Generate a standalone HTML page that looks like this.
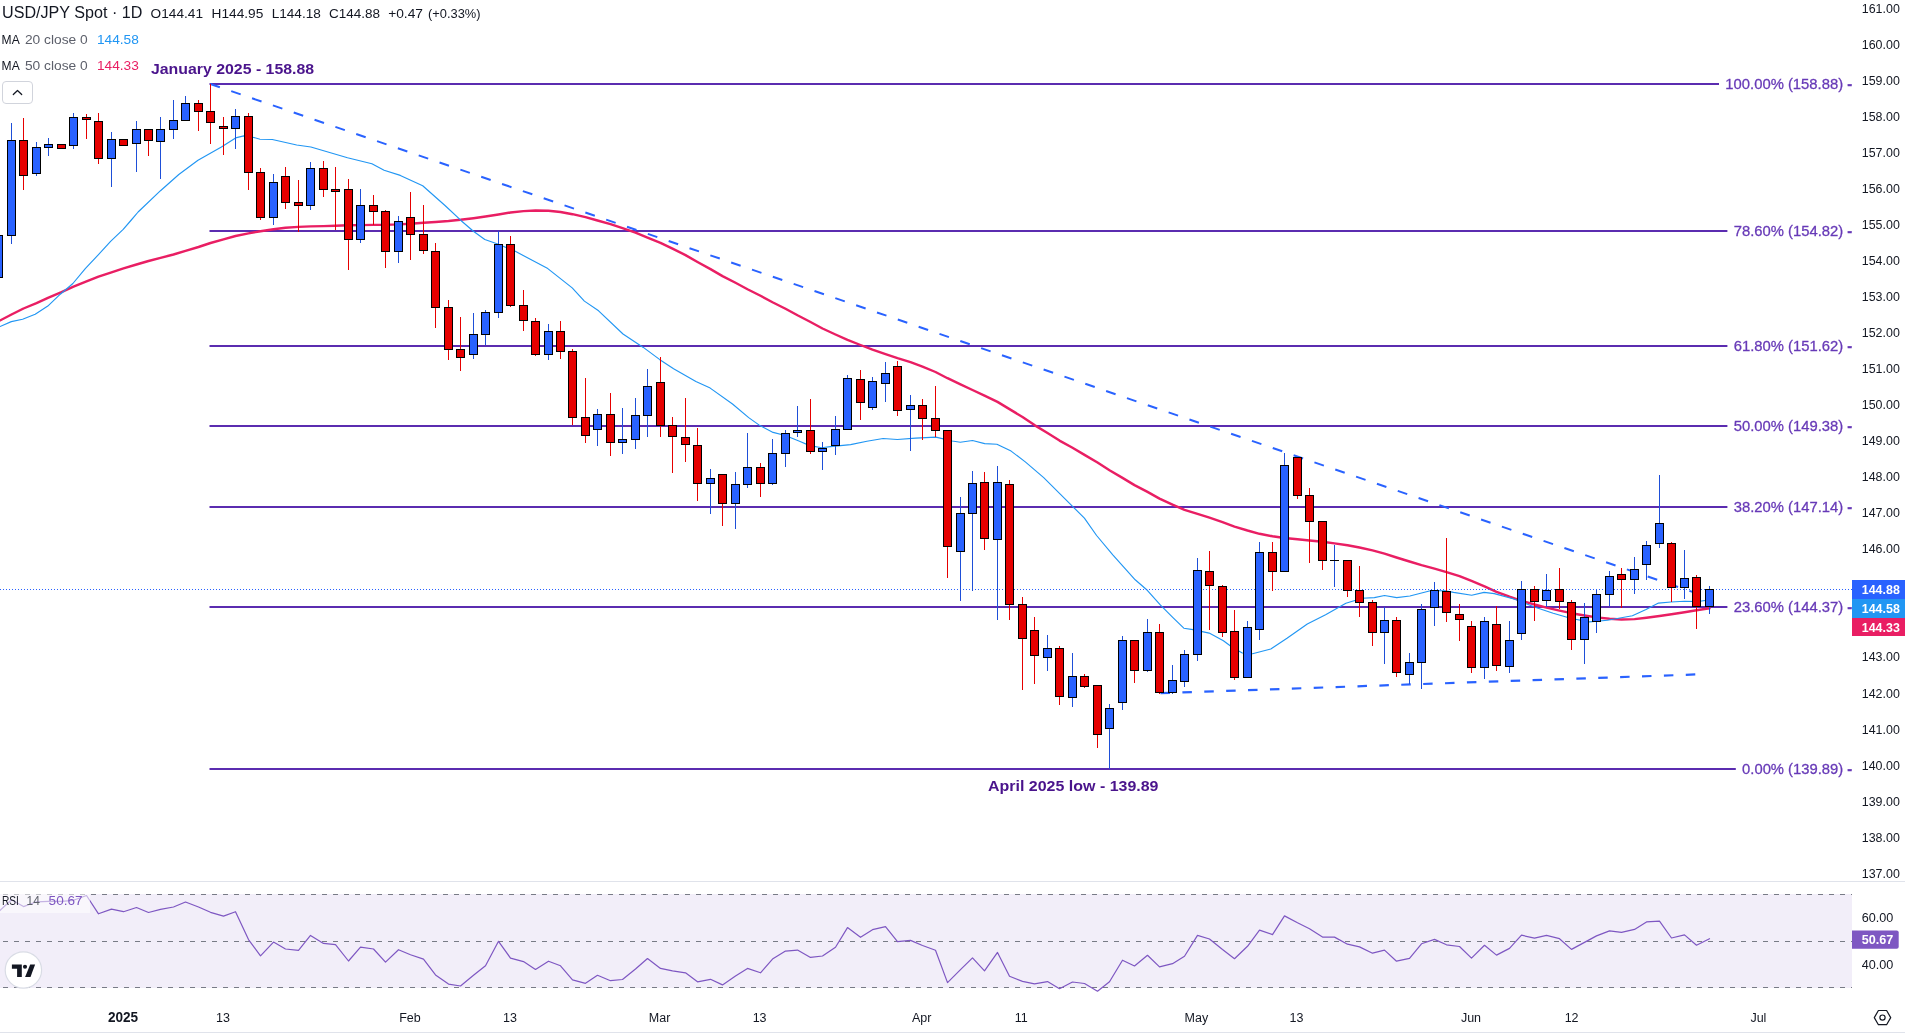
<!DOCTYPE html>
<html><head><meta charset="utf-8"><title>USD/JPY Spot 1D</title>
<style>html,body{margin:0;padding:0;background:#fff;overflow:hidden}svg{display:block;will-change:transform}</style></head>
<body>
<svg width="1905" height="1034" viewBox="0 0 1905 1034" font-family='"Liberation Sans", sans-serif'>
<rect x="0" y="894" width="1852" height="94" fill="#f2eef9"/>
<rect x="0" y="881" width="1905" height="1" fill="#e0e3eb"/>
<rect x="0" y="1032" width="1905" height="1" fill="#e0e3eb"/>
<rect x="209.5" y="83.0" width="1509.5" height="2" fill="#5b2cb0"/>
<rect x="209.5" y="230.0" width="1517.9" height="2" fill="#5b2cb0"/>
<rect x="209.5" y="345.0" width="1517.9" height="2" fill="#5b2cb0"/>
<rect x="209.5" y="425.0" width="1517.9" height="2" fill="#5b2cb0"/>
<rect x="209.5" y="506.0" width="1517.9" height="2" fill="#5b2cb0"/>
<rect x="209.5" y="606.0" width="1517.9" height="2" fill="#5b2cb0"/>
<rect x="209.5" y="768.0" width="1526.3" height="2" fill="#5b2cb0"/>
<text x="1852.2" y="88.8" font-size="15" fill="#673ab7" text-anchor="end" textLength="126.9" lengthAdjust="spacingAndGlyphs" stroke="#673ab7" stroke-width="0.3">100.00% (158.88) <tspan font-weight="bold">-</tspan></text>
<text x="1852.2" y="235.8" font-size="15" fill="#673ab7" text-anchor="end" textLength="118.5" lengthAdjust="spacingAndGlyphs" stroke="#673ab7" stroke-width="0.3">78.60% (154.82) <tspan font-weight="bold">-</tspan></text>
<text x="1852.2" y="350.8" font-size="15" fill="#673ab7" text-anchor="end" textLength="118.5" lengthAdjust="spacingAndGlyphs" stroke="#673ab7" stroke-width="0.3">61.80% (151.62) <tspan font-weight="bold">-</tspan></text>
<text x="1852.2" y="430.8" font-size="15" fill="#673ab7" text-anchor="end" textLength="118.5" lengthAdjust="spacingAndGlyphs" stroke="#673ab7" stroke-width="0.3">50.00% (149.38) <tspan font-weight="bold">-</tspan></text>
<text x="1852.2" y="511.8" font-size="15" fill="#673ab7" text-anchor="end" textLength="118.5" lengthAdjust="spacingAndGlyphs" stroke="#673ab7" stroke-width="0.3">38.20% (147.14) <tspan font-weight="bold">-</tspan></text>
<text x="1852.2" y="611.8" font-size="15" fill="#673ab7" text-anchor="end" textLength="118.5" lengthAdjust="spacingAndGlyphs" stroke="#673ab7" stroke-width="0.3">23.60% (144.37) <tspan font-weight="bold">-</tspan></text>
<text x="1852.2" y="773.8" font-size="15" fill="#673ab7" text-anchor="end" textLength="110.1" lengthAdjust="spacingAndGlyphs" stroke="#673ab7" stroke-width="0.3">0.00% (139.89) <tspan font-weight="bold">-</tspan></text>
<line x1="210.4" y1="84.0" x2="1692.5" y2="591.9" stroke="#2962ff" stroke-width="2" stroke-dasharray="10 12.02"/>
<line x1="1160.5" y1="693.2" x2="1697" y2="674.4" stroke="#2962ff" stroke-width="2.2" stroke-dasharray="9.5 12.4"/>
<polyline points="-1.5,321.3 11.5,314.5 23.5,308.5 36.5,303.1 48.5,297.7 61.5,292.2 73.5,286.7 86.5,281.4 98.5,276.6 111.5,272.3 123.5,268.4 136.5,264.5 148.5,261.0 160.5,257.8 173.5,254.5 185.5,250.8 198.5,247.0 210.5,243.0 223.5,239.3 235.5,236.0 248.5,233.4 260.5,231.2 273.5,229.2 285.5,227.7 298.5,226.9 310.5,226.4 323.5,226.1 335.5,225.8 348.5,225.3 360.5,225.1 373.5,224.9 385.5,224.8 398.5,224.4 410.5,223.7 423.5,222.8 435.5,222.0 448.5,221.0 460.5,219.8 473.5,218.2 485.5,216.5 498.5,214.5 510.5,212.5 523.5,211.1 535.5,210.5 548.5,210.8 560.5,212.0 572.5,214.2 585.5,217.1 597.5,220.5 610.5,224.1 622.5,228.2 635.5,232.7 647.5,237.6 660.5,242.9 672.5,248.7 685.5,255.1 697.5,262.0 710.5,269.1 722.5,276.1 735.5,282.8 747.5,289.2 760.5,295.7 772.5,302.2 785.5,308.7 797.5,315.3 810.5,322.0 822.5,328.5 835.5,334.5 847.5,339.9 860.5,345.0 872.5,349.7 885.5,354.1 897.5,358.2 910.5,362.2 922.5,366.7 935.5,372.0 947.5,378.2 960.5,384.3 972.5,390.0 984.5,395.7 997.5,401.9 1009.5,409.1 1022.5,417.0 1034.5,425.1 1047.5,433.0 1059.5,440.6 1072.5,447.7 1084.5,454.9 1097.5,462.5 1109.5,470.3 1122.5,477.9 1134.5,485.1 1147.5,491.9 1159.5,498.6 1172.5,504.7 1184.5,509.8 1197.5,513.8 1209.5,517.7 1222.5,522.1 1234.5,526.6 1247.5,530.5 1259.5,533.8 1272.5,536.3 1284.5,538.0 1297.5,539.2 1309.5,540.5 1322.5,541.8 1334.5,543.4 1347.5,545.2 1359.5,547.5 1372.5,550.3 1384.5,553.7 1396.5,557.5 1409.5,561.5 1421.5,565.2 1434.5,568.7 1446.5,572.1 1459.5,576.1 1471.5,580.9 1484.5,586.3 1496.5,591.8 1509.5,596.7 1521.5,600.9 1534.5,604.5 1546.5,607.7 1559.5,610.6 1571.5,613.2 1584.5,615.5 1596.5,617.4 1609.5,618.8 1621.5,619.5 1634.5,619.1 1646.5,617.7 1659.5,616.0 1671.5,614.2 1684.5,612.2 1696.5,610.2 1709.5,608.3" fill="none" stroke="#e91e63" stroke-width="2.4" stroke-linejoin="round" stroke-linecap="round"/>
<polyline points="-2.0,327.5 0.0,326.6 11.3,321.6 22.6,319.3 35.2,314.3 47.8,306.1 60.3,294.2 72.9,283.5 85.5,268.4 98.0,255.2 110.6,241.4 123.2,229.4 131.3,220.0 138.1,212.0 160.5,190.7 178.8,174.5 198.0,160.2 221.4,147.0 235.6,137.9 243.8,135.9 253.9,137.5 260.0,139.2 272.3,139.5 296.7,145.0 310.9,147.0 347.5,157.7 371.9,163.8 384.1,170.3 400.3,175.4 422.7,185.8 445.0,205.5 461.2,220.7 473.4,231.3 484.8,239.5 497.0,243.8 515.3,251.3 547.8,268.6 572.2,287.9 584.4,301.1 598.6,310.8 623.0,334.0 643.3,347.4 659.5,359.4 673.6,368.8 695.9,381.6 710.2,388.1 732.5,404.0 748.7,417.6 758.9,424.9 773.1,432.4 785.3,435.5 799.5,441.2 809.7,445.6 821.9,447.7 830.3,446.6 850.6,444.6 866.9,441.2 883.1,438.5 897.3,439.5 915.6,438.1 935.9,437.1 952.2,441.0 960.3,442.2 972.5,440.5 984.7,443.6 996.9,444.2 1011.1,451.1 1025.3,461.9 1043.7,477.6 1060.0,493.8 1084.4,518.2 1096.6,535.5 1112.8,554.8 1135.2,579.8 1147.3,590.3 1160.5,605.2 1172.7,617.4 1183.8,628.2 1193.0,629.6 1209.2,633.1 1223.4,640.8 1232.2,647.3 1242.3,653.0 1252.5,653.8 1270.8,649.0 1287.0,638.2 1307.3,624.0 1325.6,614.8 1345.9,603.3 1362.2,598.2 1374.4,597.6 1384.5,595.5 1396.7,597.6 1409.9,596.0 1431.3,590.5 1445.5,590.9 1453.6,592.4 1471.7,595.2 1484.1,592.4 1494.3,593.6 1514.7,599.2 1535.1,607.2 1553.2,613.3 1571.3,618.5 1589.4,621.9 1607.5,620.3 1632.4,615.8 1646.0,609.4 1658.5,603.1 1670.9,602.0 1684.5,601.3 1698.1,601.5 1709.4,599.9" fill="none" stroke="#2196f3" stroke-width="1.15" stroke-linejoin="round" stroke-linecap="round"/>
<line x1="0" y1="589.5" x2="1852" y2="589.5" stroke="#2962ff" stroke-width="1" stroke-dasharray="1 2"/>
<g shape-rendering="crispEdges">
<rect x="-6" y="235" width="9" height="43" fill="#000"/><rect x="-5" y="236" width="7" height="41" fill="#2962ff"/>
<rect x="11" y="123" width="1" height="17" fill="#1e4fd8"/>
<rect x="11" y="236" width="1" height="8" fill="#1e4fd8"/>
<rect x="7" y="140" width="9" height="96" fill="#000"/>
<rect x="8" y="141" width="7" height="94" fill="#2962ff"/>
<rect x="23" y="118" width="1" height="22" fill="#e60000"/>
<rect x="23" y="176" width="1" height="14" fill="#e60000"/>
<rect x="19" y="140" width="9" height="36" fill="#000"/>
<rect x="20" y="141" width="7" height="34" fill="#e60000"/>
<rect x="36" y="142" width="1" height="5" fill="#1e4fd8"/>
<rect x="36" y="174" width="1" height="2" fill="#1e4fd8"/>
<rect x="32" y="147" width="9" height="27" fill="#000"/>
<rect x="33" y="148" width="7" height="25" fill="#2962ff"/>
<rect x="48" y="138" width="1" height="6" fill="#1e4fd8"/>
<rect x="48" y="148" width="1" height="8" fill="#1e4fd8"/>
<rect x="44" y="144" width="9" height="4" fill="#000"/>
<rect x="45" y="145" width="7" height="2" fill="#2962ff"/>
<rect x="57" y="144" width="9" height="5" fill="#000"/>
<rect x="58" y="145" width="7" height="3" fill="#e60000"/>
<rect x="73" y="113" width="1" height="4" fill="#1e4fd8"/>
<rect x="73" y="146" width="1" height="3" fill="#1e4fd8"/>
<rect x="69" y="117" width="9" height="29" fill="#000"/>
<rect x="70" y="118" width="7" height="27" fill="#2962ff"/>
<rect x="86" y="114" width="1" height="3" fill="#e60000"/>
<rect x="86" y="120" width="1" height="19" fill="#e60000"/>
<rect x="82" y="117" width="9" height="3" fill="#000"/>
<rect x="83" y="118" width="7" height="1" fill="#e60000"/>
<rect x="98" y="113" width="1" height="8" fill="#e60000"/>
<rect x="98" y="159" width="1" height="5" fill="#e60000"/>
<rect x="94" y="121" width="9" height="38" fill="#000"/>
<rect x="95" y="122" width="7" height="36" fill="#e60000"/>
<rect x="111" y="132" width="1" height="7" fill="#1e4fd8"/>
<rect x="111" y="159" width="1" height="28" fill="#1e4fd8"/>
<rect x="107" y="139" width="9" height="20" fill="#000"/>
<rect x="108" y="140" width="7" height="18" fill="#2962ff"/>
<rect x="119" y="139" width="9" height="7" fill="#000"/>
<rect x="120" y="140" width="7" height="5" fill="#e60000"/>
<rect x="136" y="121" width="1" height="8" fill="#1e4fd8"/>
<rect x="136" y="144" width="1" height="28" fill="#1e4fd8"/>
<rect x="132" y="129" width="9" height="15" fill="#000"/>
<rect x="133" y="130" width="7" height="13" fill="#2962ff"/>
<rect x="148" y="141" width="1" height="15" fill="#e60000"/>
<rect x="144" y="129" width="9" height="12" fill="#000"/>
<rect x="145" y="130" width="7" height="10" fill="#e60000"/>
<rect x="160" y="117" width="1" height="12" fill="#1e4fd8"/>
<rect x="160" y="142" width="1" height="37" fill="#1e4fd8"/>
<rect x="156" y="129" width="9" height="13" fill="#000"/>
<rect x="157" y="130" width="7" height="11" fill="#2962ff"/>
<rect x="173" y="100" width="1" height="20" fill="#1e4fd8"/>
<rect x="173" y="130" width="1" height="9" fill="#1e4fd8"/>
<rect x="169" y="120" width="9" height="10" fill="#000"/>
<rect x="170" y="121" width="7" height="8" fill="#2962ff"/>
<rect x="185" y="96" width="1" height="7" fill="#1e4fd8"/>
<rect x="181" y="103" width="9" height="18" fill="#000"/>
<rect x="182" y="104" width="7" height="16" fill="#2962ff"/>
<rect x="198" y="100" width="1" height="3" fill="#e60000"/>
<rect x="198" y="112" width="1" height="19" fill="#e60000"/>
<rect x="194" y="103" width="9" height="9" fill="#000"/>
<rect x="195" y="104" width="7" height="7" fill="#e60000"/>
<rect x="210" y="84" width="1" height="27" fill="#e60000"/>
<rect x="210" y="123" width="1" height="21" fill="#e60000"/>
<rect x="206" y="111" width="9" height="12" fill="#000"/>
<rect x="207" y="112" width="7" height="10" fill="#e60000"/>
<rect x="223" y="117" width="1" height="9" fill="#e60000"/>
<rect x="223" y="129" width="1" height="26" fill="#e60000"/>
<rect x="219" y="126" width="9" height="3" fill="#000"/>
<rect x="220" y="127" width="7" height="1" fill="#e60000"/>
<rect x="235" y="109" width="1" height="7" fill="#1e4fd8"/>
<rect x="235" y="129" width="1" height="20" fill="#1e4fd8"/>
<rect x="231" y="116" width="9" height="13" fill="#000"/>
<rect x="232" y="117" width="7" height="11" fill="#2962ff"/>
<rect x="248" y="113" width="1" height="3" fill="#e60000"/>
<rect x="248" y="173" width="1" height="17" fill="#e60000"/>
<rect x="244" y="116" width="9" height="57" fill="#000"/>
<rect x="245" y="117" width="7" height="55" fill="#e60000"/>
<rect x="260" y="168" width="1" height="4" fill="#e60000"/>
<rect x="260" y="218" width="1" height="2" fill="#e60000"/>
<rect x="256" y="172" width="9" height="46" fill="#000"/>
<rect x="257" y="173" width="7" height="44" fill="#e60000"/>
<rect x="273" y="174" width="1" height="8" fill="#1e4fd8"/>
<rect x="273" y="218" width="1" height="7" fill="#1e4fd8"/>
<rect x="269" y="182" width="9" height="36" fill="#000"/>
<rect x="270" y="183" width="7" height="34" fill="#2962ff"/>
<rect x="285" y="167" width="1" height="9" fill="#e60000"/>
<rect x="285" y="203" width="1" height="6" fill="#e60000"/>
<rect x="281" y="176" width="9" height="27" fill="#000"/>
<rect x="282" y="177" width="7" height="25" fill="#e60000"/>
<rect x="298" y="180" width="1" height="22" fill="#e60000"/>
<rect x="298" y="206" width="1" height="26" fill="#e60000"/>
<rect x="294" y="202" width="9" height="4" fill="#000"/>
<rect x="295" y="203" width="7" height="2" fill="#e60000"/>
<rect x="310" y="162" width="1" height="6" fill="#1e4fd8"/>
<rect x="310" y="206" width="1" height="4" fill="#1e4fd8"/>
<rect x="306" y="168" width="9" height="38" fill="#000"/>
<rect x="307" y="169" width="7" height="36" fill="#2962ff"/>
<rect x="323" y="161" width="1" height="7" fill="#e60000"/>
<rect x="323" y="190" width="1" height="7" fill="#e60000"/>
<rect x="319" y="168" width="9" height="22" fill="#000"/>
<rect x="320" y="169" width="7" height="20" fill="#e60000"/>
<rect x="335" y="167" width="1" height="22" fill="#e60000"/>
<rect x="335" y="192" width="1" height="38" fill="#e60000"/>
<rect x="331" y="189" width="9" height="3" fill="#000"/>
<rect x="332" y="190" width="7" height="1" fill="#e60000"/>
<rect x="348" y="179" width="1" height="10" fill="#e60000"/>
<rect x="348" y="240" width="1" height="30" fill="#e60000"/>
<rect x="344" y="189" width="9" height="51" fill="#000"/>
<rect x="345" y="190" width="7" height="49" fill="#e60000"/>
<rect x="360" y="189" width="1" height="16" fill="#1e4fd8"/>
<rect x="360" y="240" width="1" height="3" fill="#1e4fd8"/>
<rect x="356" y="205" width="9" height="35" fill="#000"/>
<rect x="357" y="206" width="7" height="33" fill="#2962ff"/>
<rect x="373" y="195" width="1" height="10" fill="#e60000"/>
<rect x="373" y="212" width="1" height="13" fill="#e60000"/>
<rect x="369" y="205" width="9" height="7" fill="#000"/>
<rect x="370" y="206" width="7" height="5" fill="#e60000"/>
<rect x="385" y="210" width="1" height="1" fill="#e60000"/>
<rect x="385" y="252" width="1" height="16" fill="#e60000"/>
<rect x="381" y="211" width="9" height="41" fill="#000"/>
<rect x="382" y="212" width="7" height="39" fill="#e60000"/>
<rect x="398" y="216" width="1" height="5" fill="#1e4fd8"/>
<rect x="398" y="252" width="1" height="11" fill="#1e4fd8"/>
<rect x="394" y="221" width="9" height="31" fill="#000"/>
<rect x="395" y="222" width="7" height="29" fill="#2962ff"/>
<rect x="410" y="192" width="1" height="25" fill="#e60000"/>
<rect x="410" y="235" width="1" height="25" fill="#e60000"/>
<rect x="406" y="217" width="9" height="18" fill="#000"/>
<rect x="407" y="218" width="7" height="16" fill="#e60000"/>
<rect x="423" y="205" width="1" height="29" fill="#e60000"/>
<rect x="423" y="251" width="1" height="3" fill="#e60000"/>
<rect x="419" y="234" width="9" height="17" fill="#000"/>
<rect x="420" y="235" width="7" height="15" fill="#e60000"/>
<rect x="435" y="243" width="1" height="8" fill="#e60000"/>
<rect x="435" y="308" width="1" height="20" fill="#e60000"/>
<rect x="431" y="251" width="9" height="57" fill="#000"/>
<rect x="432" y="252" width="7" height="55" fill="#e60000"/>
<rect x="448" y="300" width="1" height="7" fill="#e60000"/>
<rect x="448" y="350" width="1" height="10" fill="#e60000"/>
<rect x="444" y="307" width="9" height="43" fill="#000"/>
<rect x="445" y="308" width="7" height="41" fill="#e60000"/>
<rect x="460" y="317" width="1" height="32" fill="#e60000"/>
<rect x="460" y="358" width="1" height="13" fill="#e60000"/>
<rect x="456" y="349" width="9" height="9" fill="#000"/>
<rect x="457" y="350" width="7" height="7" fill="#e60000"/>
<rect x="473" y="313" width="1" height="21" fill="#1e4fd8"/>
<rect x="473" y="355" width="1" height="4" fill="#1e4fd8"/>
<rect x="469" y="334" width="9" height="21" fill="#000"/>
<rect x="470" y="335" width="7" height="19" fill="#2962ff"/>
<rect x="485" y="310" width="1" height="2" fill="#1e4fd8"/>
<rect x="485" y="335" width="1" height="10" fill="#1e4fd8"/>
<rect x="481" y="312" width="9" height="23" fill="#000"/>
<rect x="482" y="313" width="7" height="21" fill="#2962ff"/>
<rect x="498" y="231" width="1" height="13" fill="#1e4fd8"/>
<rect x="498" y="313" width="1" height="5" fill="#1e4fd8"/>
<rect x="494" y="244" width="9" height="69" fill="#000"/>
<rect x="495" y="245" width="7" height="67" fill="#2962ff"/>
<rect x="510" y="236" width="1" height="8" fill="#e60000"/>
<rect x="510" y="306" width="1" height="1" fill="#e60000"/>
<rect x="506" y="244" width="9" height="62" fill="#000"/>
<rect x="507" y="245" width="7" height="60" fill="#e60000"/>
<rect x="523" y="290" width="1" height="15" fill="#e60000"/>
<rect x="523" y="321" width="1" height="10" fill="#e60000"/>
<rect x="519" y="305" width="9" height="16" fill="#000"/>
<rect x="520" y="306" width="7" height="14" fill="#e60000"/>
<rect x="535" y="318" width="1" height="3" fill="#e60000"/>
<rect x="535" y="355" width="1" height="1" fill="#e60000"/>
<rect x="531" y="321" width="9" height="34" fill="#000"/>
<rect x="532" y="322" width="7" height="32" fill="#e60000"/>
<rect x="548" y="324" width="1" height="7" fill="#1e4fd8"/>
<rect x="548" y="355" width="1" height="5" fill="#1e4fd8"/>
<rect x="544" y="331" width="9" height="24" fill="#000"/>
<rect x="545" y="332" width="7" height="22" fill="#2962ff"/>
<rect x="560" y="321" width="1" height="10" fill="#e60000"/>
<rect x="560" y="352" width="1" height="7" fill="#e60000"/>
<rect x="556" y="331" width="9" height="21" fill="#000"/>
<rect x="557" y="332" width="7" height="19" fill="#e60000"/>
<rect x="572" y="349" width="1" height="2" fill="#e60000"/>
<rect x="572" y="418" width="1" height="7" fill="#e60000"/>
<rect x="568" y="351" width="9" height="67" fill="#000"/>
<rect x="569" y="352" width="7" height="65" fill="#e60000"/>
<rect x="585" y="378" width="1" height="39" fill="#e60000"/>
<rect x="585" y="436" width="1" height="7" fill="#e60000"/>
<rect x="581" y="417" width="9" height="19" fill="#000"/>
<rect x="582" y="418" width="7" height="17" fill="#e60000"/>
<rect x="597" y="409" width="1" height="5" fill="#1e4fd8"/>
<rect x="597" y="430" width="1" height="16" fill="#1e4fd8"/>
<rect x="593" y="414" width="9" height="16" fill="#000"/>
<rect x="594" y="415" width="7" height="14" fill="#2962ff"/>
<rect x="610" y="393" width="1" height="21" fill="#e60000"/>
<rect x="610" y="443" width="1" height="13" fill="#e60000"/>
<rect x="606" y="414" width="9" height="29" fill="#000"/>
<rect x="607" y="415" width="7" height="27" fill="#e60000"/>
<rect x="622" y="408" width="1" height="31" fill="#1e4fd8"/>
<rect x="622" y="443" width="1" height="11" fill="#1e4fd8"/>
<rect x="618" y="439" width="9" height="4" fill="#000"/>
<rect x="619" y="440" width="7" height="2" fill="#2962ff"/>
<rect x="635" y="398" width="1" height="17" fill="#1e4fd8"/>
<rect x="635" y="440" width="1" height="9" fill="#1e4fd8"/>
<rect x="631" y="415" width="9" height="25" fill="#000"/>
<rect x="632" y="416" width="7" height="23" fill="#2962ff"/>
<rect x="647" y="369" width="1" height="17" fill="#1e4fd8"/>
<rect x="647" y="416" width="1" height="21" fill="#1e4fd8"/>
<rect x="643" y="386" width="9" height="30" fill="#000"/>
<rect x="644" y="387" width="7" height="28" fill="#2962ff"/>
<rect x="660" y="357" width="1" height="25" fill="#e60000"/>
<rect x="660" y="426" width="1" height="11" fill="#e60000"/>
<rect x="656" y="382" width="9" height="44" fill="#000"/>
<rect x="657" y="383" width="7" height="42" fill="#e60000"/>
<rect x="672" y="417" width="1" height="8" fill="#e60000"/>
<rect x="672" y="437" width="1" height="36" fill="#e60000"/>
<rect x="668" y="425" width="9" height="12" fill="#000"/>
<rect x="669" y="426" width="7" height="10" fill="#e60000"/>
<rect x="685" y="398" width="1" height="39" fill="#e60000"/>
<rect x="685" y="445" width="1" height="17" fill="#e60000"/>
<rect x="681" y="437" width="9" height="8" fill="#000"/>
<rect x="682" y="438" width="7" height="6" fill="#e60000"/>
<rect x="697" y="428" width="1" height="17" fill="#e60000"/>
<rect x="697" y="484" width="1" height="17" fill="#e60000"/>
<rect x="693" y="445" width="9" height="39" fill="#000"/>
<rect x="694" y="446" width="7" height="37" fill="#e60000"/>
<rect x="710" y="469" width="1" height="9" fill="#1e4fd8"/>
<rect x="710" y="484" width="1" height="30" fill="#1e4fd8"/>
<rect x="706" y="478" width="9" height="6" fill="#000"/>
<rect x="707" y="479" width="7" height="4" fill="#2962ff"/>
<rect x="722" y="504" width="1" height="22" fill="#e60000"/>
<rect x="718" y="474" width="9" height="30" fill="#000"/>
<rect x="719" y="475" width="7" height="28" fill="#e60000"/>
<rect x="735" y="472" width="1" height="12" fill="#1e4fd8"/>
<rect x="735" y="504" width="1" height="25" fill="#1e4fd8"/>
<rect x="731" y="484" width="9" height="20" fill="#000"/>
<rect x="732" y="485" width="7" height="18" fill="#2962ff"/>
<rect x="747" y="433" width="1" height="34" fill="#1e4fd8"/>
<rect x="747" y="485" width="1" height="3" fill="#1e4fd8"/>
<rect x="743" y="467" width="9" height="18" fill="#000"/>
<rect x="744" y="468" width="7" height="16" fill="#2962ff"/>
<rect x="760" y="463" width="1" height="4" fill="#e60000"/>
<rect x="760" y="484" width="1" height="13" fill="#e60000"/>
<rect x="756" y="467" width="9" height="17" fill="#000"/>
<rect x="757" y="468" width="7" height="15" fill="#e60000"/>
<rect x="772" y="439" width="1" height="14" fill="#1e4fd8"/>
<rect x="772" y="484" width="1" height="1" fill="#1e4fd8"/>
<rect x="768" y="453" width="9" height="31" fill="#000"/>
<rect x="769" y="454" width="7" height="29" fill="#2962ff"/>
<rect x="785" y="430" width="1" height="3" fill="#1e4fd8"/>
<rect x="785" y="454" width="1" height="13" fill="#1e4fd8"/>
<rect x="781" y="433" width="9" height="21" fill="#000"/>
<rect x="782" y="434" width="7" height="19" fill="#2962ff"/>
<rect x="797" y="406" width="1" height="24" fill="#1e4fd8"/>
<rect x="797" y="433" width="1" height="4" fill="#1e4fd8"/>
<rect x="793" y="430" width="9" height="3" fill="#000"/>
<rect x="794" y="431" width="7" height="1" fill="#2962ff"/>
<rect x="810" y="399" width="1" height="31" fill="#e60000"/>
<rect x="810" y="452" width="1" height="2" fill="#e60000"/>
<rect x="806" y="430" width="9" height="22" fill="#000"/>
<rect x="807" y="431" width="7" height="20" fill="#e60000"/>
<rect x="822" y="442" width="1" height="6" fill="#1e4fd8"/>
<rect x="822" y="452" width="1" height="18" fill="#1e4fd8"/>
<rect x="818" y="448" width="9" height="4" fill="#000"/>
<rect x="819" y="449" width="7" height="2" fill="#2962ff"/>
<rect x="835" y="416" width="1" height="13" fill="#1e4fd8"/>
<rect x="835" y="446" width="1" height="9" fill="#1e4fd8"/>
<rect x="831" y="429" width="9" height="17" fill="#000"/>
<rect x="832" y="430" width="7" height="15" fill="#2962ff"/>
<rect x="847" y="375" width="1" height="3" fill="#1e4fd8"/>
<rect x="843" y="378" width="9" height="52" fill="#000"/>
<rect x="844" y="379" width="7" height="50" fill="#2962ff"/>
<rect x="860" y="370" width="1" height="9" fill="#e60000"/>
<rect x="860" y="403" width="1" height="17" fill="#e60000"/>
<rect x="856" y="379" width="9" height="24" fill="#000"/>
<rect x="857" y="380" width="7" height="22" fill="#e60000"/>
<rect x="872" y="377" width="1" height="4" fill="#1e4fd8"/>
<rect x="872" y="408" width="1" height="2" fill="#1e4fd8"/>
<rect x="868" y="381" width="9" height="27" fill="#000"/>
<rect x="869" y="382" width="7" height="25" fill="#2962ff"/>
<rect x="885" y="362" width="1" height="11" fill="#1e4fd8"/>
<rect x="885" y="384" width="1" height="18" fill="#1e4fd8"/>
<rect x="881" y="373" width="9" height="11" fill="#000"/>
<rect x="882" y="374" width="7" height="9" fill="#2962ff"/>
<rect x="897" y="361" width="1" height="5" fill="#e60000"/>
<rect x="897" y="411" width="1" height="5" fill="#e60000"/>
<rect x="893" y="366" width="9" height="45" fill="#000"/>
<rect x="894" y="367" width="7" height="43" fill="#e60000"/>
<rect x="910" y="395" width="1" height="10" fill="#1e4fd8"/>
<rect x="910" y="410" width="1" height="41" fill="#1e4fd8"/>
<rect x="906" y="405" width="9" height="5" fill="#000"/>
<rect x="907" y="406" width="7" height="3" fill="#2962ff"/>
<rect x="922" y="399" width="1" height="6" fill="#e60000"/>
<rect x="922" y="419" width="1" height="21" fill="#e60000"/>
<rect x="918" y="405" width="9" height="14" fill="#000"/>
<rect x="919" y="406" width="7" height="12" fill="#e60000"/>
<rect x="935" y="386" width="1" height="32" fill="#e60000"/>
<rect x="935" y="431" width="1" height="6" fill="#e60000"/>
<rect x="931" y="418" width="9" height="13" fill="#000"/>
<rect x="932" y="419" width="7" height="11" fill="#e60000"/>
<rect x="947" y="547" width="1" height="31" fill="#e60000"/>
<rect x="943" y="430" width="9" height="117" fill="#000"/>
<rect x="944" y="431" width="7" height="115" fill="#e60000"/>
<rect x="960" y="497" width="1" height="16" fill="#1e4fd8"/>
<rect x="960" y="552" width="1" height="49" fill="#1e4fd8"/>
<rect x="956" y="513" width="9" height="39" fill="#000"/>
<rect x="957" y="514" width="7" height="37" fill="#2962ff"/>
<rect x="972" y="471" width="1" height="12" fill="#1e4fd8"/>
<rect x="972" y="514" width="1" height="77" fill="#1e4fd8"/>
<rect x="968" y="483" width="9" height="31" fill="#000"/>
<rect x="969" y="484" width="7" height="29" fill="#2962ff"/>
<rect x="984" y="472" width="1" height="10" fill="#e60000"/>
<rect x="984" y="539" width="1" height="11" fill="#e60000"/>
<rect x="980" y="482" width="9" height="57" fill="#000"/>
<rect x="981" y="483" width="7" height="55" fill="#e60000"/>
<rect x="997" y="466" width="1" height="16" fill="#1e4fd8"/>
<rect x="997" y="540" width="1" height="80" fill="#1e4fd8"/>
<rect x="993" y="482" width="9" height="58" fill="#000"/>
<rect x="994" y="483" width="7" height="56" fill="#2962ff"/>
<rect x="1009" y="480" width="1" height="4" fill="#e60000"/>
<rect x="1009" y="605" width="1" height="15" fill="#e60000"/>
<rect x="1005" y="484" width="9" height="121" fill="#000"/>
<rect x="1006" y="485" width="7" height="119" fill="#e60000"/>
<rect x="1022" y="597" width="1" height="7" fill="#e60000"/>
<rect x="1022" y="639" width="1" height="51" fill="#e60000"/>
<rect x="1018" y="604" width="9" height="35" fill="#000"/>
<rect x="1019" y="605" width="7" height="33" fill="#e60000"/>
<rect x="1034" y="617" width="1" height="13" fill="#e60000"/>
<rect x="1034" y="656" width="1" height="28" fill="#e60000"/>
<rect x="1030" y="630" width="9" height="26" fill="#000"/>
<rect x="1031" y="631" width="7" height="24" fill="#e60000"/>
<rect x="1047" y="635" width="1" height="13" fill="#1e4fd8"/>
<rect x="1047" y="658" width="1" height="13" fill="#1e4fd8"/>
<rect x="1043" y="648" width="9" height="10" fill="#000"/>
<rect x="1044" y="649" width="7" height="8" fill="#2962ff"/>
<rect x="1059" y="646" width="1" height="2" fill="#e60000"/>
<rect x="1059" y="697" width="1" height="8" fill="#e60000"/>
<rect x="1055" y="648" width="9" height="49" fill="#000"/>
<rect x="1056" y="649" width="7" height="47" fill="#e60000"/>
<rect x="1072" y="653" width="1" height="23" fill="#1e4fd8"/>
<rect x="1072" y="698" width="1" height="9" fill="#1e4fd8"/>
<rect x="1068" y="676" width="9" height="22" fill="#000"/>
<rect x="1069" y="677" width="7" height="20" fill="#2962ff"/>
<rect x="1084" y="674" width="1" height="2" fill="#e60000"/>
<rect x="1084" y="687" width="1" height="1" fill="#e60000"/>
<rect x="1080" y="676" width="9" height="11" fill="#000"/>
<rect x="1081" y="677" width="7" height="9" fill="#e60000"/>
<rect x="1097" y="735" width="1" height="13" fill="#e60000"/>
<rect x="1093" y="685" width="9" height="50" fill="#000"/>
<rect x="1094" y="686" width="7" height="48" fill="#e60000"/>
<rect x="1109" y="704" width="1" height="4" fill="#1e4fd8"/>
<rect x="1109" y="729" width="1" height="40" fill="#1e4fd8"/>
<rect x="1105" y="708" width="9" height="21" fill="#000"/>
<rect x="1106" y="709" width="7" height="19" fill="#2962ff"/>
<rect x="1122" y="636" width="1" height="4" fill="#1e4fd8"/>
<rect x="1122" y="703" width="1" height="7" fill="#1e4fd8"/>
<rect x="1118" y="640" width="9" height="63" fill="#000"/>
<rect x="1119" y="641" width="7" height="61" fill="#2962ff"/>
<rect x="1134" y="671" width="1" height="12" fill="#e60000"/>
<rect x="1130" y="640" width="9" height="31" fill="#000"/>
<rect x="1131" y="641" width="7" height="29" fill="#e60000"/>
<rect x="1147" y="619" width="1" height="13" fill="#1e4fd8"/>
<rect x="1147" y="671" width="1" height="1" fill="#1e4fd8"/>
<rect x="1143" y="632" width="9" height="39" fill="#000"/>
<rect x="1144" y="633" width="7" height="37" fill="#2962ff"/>
<rect x="1159" y="624" width="1" height="8" fill="#e60000"/>
<rect x="1159" y="693" width="1" height="1" fill="#e60000"/>
<rect x="1155" y="632" width="9" height="61" fill="#000"/>
<rect x="1156" y="633" width="7" height="59" fill="#e60000"/>
<rect x="1172" y="665" width="1" height="15" fill="#1e4fd8"/>
<rect x="1172" y="693" width="1" height="1" fill="#1e4fd8"/>
<rect x="1168" y="680" width="9" height="13" fill="#000"/>
<rect x="1169" y="681" width="7" height="11" fill="#2962ff"/>
<rect x="1184" y="650" width="1" height="4" fill="#1e4fd8"/>
<rect x="1184" y="682" width="1" height="5" fill="#1e4fd8"/>
<rect x="1180" y="654" width="9" height="28" fill="#000"/>
<rect x="1181" y="655" width="7" height="26" fill="#2962ff"/>
<rect x="1197" y="558" width="1" height="12" fill="#1e4fd8"/>
<rect x="1197" y="655" width="1" height="6" fill="#1e4fd8"/>
<rect x="1193" y="570" width="9" height="85" fill="#000"/>
<rect x="1194" y="571" width="7" height="83" fill="#2962ff"/>
<rect x="1209" y="551" width="1" height="20" fill="#e60000"/>
<rect x="1209" y="586" width="1" height="44" fill="#e60000"/>
<rect x="1205" y="571" width="9" height="15" fill="#000"/>
<rect x="1206" y="572" width="7" height="13" fill="#e60000"/>
<rect x="1222" y="585" width="1" height="1" fill="#e60000"/>
<rect x="1222" y="633" width="1" height="4" fill="#e60000"/>
<rect x="1218" y="586" width="9" height="47" fill="#000"/>
<rect x="1219" y="587" width="7" height="45" fill="#e60000"/>
<rect x="1234" y="610" width="1" height="21" fill="#e60000"/>
<rect x="1234" y="678" width="1" height="2" fill="#e60000"/>
<rect x="1230" y="631" width="9" height="47" fill="#000"/>
<rect x="1231" y="632" width="7" height="45" fill="#e60000"/>
<rect x="1247" y="621" width="1" height="6" fill="#1e4fd8"/>
<rect x="1243" y="627" width="9" height="51" fill="#000"/>
<rect x="1244" y="628" width="7" height="49" fill="#2962ff"/>
<rect x="1259" y="542" width="1" height="10" fill="#1e4fd8"/>
<rect x="1259" y="630" width="1" height="10" fill="#1e4fd8"/>
<rect x="1255" y="552" width="9" height="78" fill="#000"/>
<rect x="1256" y="553" width="7" height="76" fill="#2962ff"/>
<rect x="1272" y="542" width="1" height="10" fill="#e60000"/>
<rect x="1272" y="572" width="1" height="19" fill="#e60000"/>
<rect x="1268" y="552" width="9" height="20" fill="#000"/>
<rect x="1269" y="553" width="7" height="18" fill="#e60000"/>
<rect x="1284" y="453" width="1" height="12" fill="#1e4fd8"/>
<rect x="1280" y="465" width="9" height="107" fill="#000"/>
<rect x="1281" y="466" width="7" height="105" fill="#2962ff"/>
<rect x="1297" y="496" width="1" height="3" fill="#e60000"/>
<rect x="1293" y="457" width="9" height="39" fill="#000"/>
<rect x="1294" y="458" width="7" height="37" fill="#e60000"/>
<rect x="1309" y="488" width="1" height="7" fill="#e60000"/>
<rect x="1309" y="522" width="1" height="41" fill="#e60000"/>
<rect x="1305" y="495" width="9" height="27" fill="#000"/>
<rect x="1306" y="496" width="7" height="25" fill="#e60000"/>
<rect x="1322" y="561" width="1" height="9" fill="#e60000"/>
<rect x="1318" y="521" width="9" height="40" fill="#000"/>
<rect x="1319" y="522" width="7" height="38" fill="#e60000"/>
<rect x="1334" y="545" width="1" height="15" fill="#1e4fd8"/>
<rect x="1334" y="561" width="1" height="26" fill="#1e4fd8"/>
<rect x="1330" y="560" width="9" height="1" fill="#000"/>
<rect x="1347" y="591" width="1" height="6" fill="#e60000"/>
<rect x="1343" y="560" width="9" height="31" fill="#000"/>
<rect x="1344" y="561" width="7" height="29" fill="#e60000"/>
<rect x="1359" y="566" width="1" height="24" fill="#e60000"/>
<rect x="1359" y="603" width="1" height="14" fill="#e60000"/>
<rect x="1355" y="590" width="9" height="13" fill="#000"/>
<rect x="1356" y="591" width="7" height="11" fill="#e60000"/>
<rect x="1372" y="600" width="1" height="2" fill="#e60000"/>
<rect x="1372" y="633" width="1" height="13" fill="#e60000"/>
<rect x="1368" y="602" width="9" height="31" fill="#000"/>
<rect x="1369" y="603" width="7" height="29" fill="#e60000"/>
<rect x="1384" y="607" width="1" height="13" fill="#1e4fd8"/>
<rect x="1384" y="633" width="1" height="31" fill="#1e4fd8"/>
<rect x="1380" y="620" width="9" height="13" fill="#000"/>
<rect x="1381" y="621" width="7" height="11" fill="#2962ff"/>
<rect x="1396" y="617" width="1" height="3" fill="#e60000"/>
<rect x="1396" y="673" width="1" height="4" fill="#e60000"/>
<rect x="1392" y="620" width="9" height="53" fill="#000"/>
<rect x="1393" y="621" width="7" height="51" fill="#e60000"/>
<rect x="1409" y="653" width="1" height="9" fill="#1e4fd8"/>
<rect x="1409" y="675" width="1" height="9" fill="#1e4fd8"/>
<rect x="1405" y="662" width="9" height="13" fill="#000"/>
<rect x="1406" y="663" width="7" height="11" fill="#2962ff"/>
<rect x="1421" y="604" width="1" height="5" fill="#1e4fd8"/>
<rect x="1421" y="663" width="1" height="26" fill="#1e4fd8"/>
<rect x="1417" y="609" width="9" height="54" fill="#000"/>
<rect x="1418" y="610" width="7" height="52" fill="#2962ff"/>
<rect x="1434" y="582" width="1" height="8" fill="#1e4fd8"/>
<rect x="1434" y="608" width="1" height="18" fill="#1e4fd8"/>
<rect x="1430" y="590" width="9" height="18" fill="#000"/>
<rect x="1431" y="591" width="7" height="16" fill="#2962ff"/>
<rect x="1446" y="538" width="1" height="53" fill="#e60000"/>
<rect x="1446" y="613" width="1" height="9" fill="#e60000"/>
<rect x="1442" y="591" width="9" height="22" fill="#000"/>
<rect x="1443" y="592" width="7" height="20" fill="#e60000"/>
<rect x="1459" y="604" width="1" height="10" fill="#e60000"/>
<rect x="1459" y="620" width="1" height="21" fill="#e60000"/>
<rect x="1455" y="614" width="9" height="6" fill="#000"/>
<rect x="1456" y="615" width="7" height="4" fill="#e60000"/>
<rect x="1471" y="621" width="1" height="5" fill="#e60000"/>
<rect x="1471" y="668" width="1" height="5" fill="#e60000"/>
<rect x="1467" y="626" width="9" height="42" fill="#000"/>
<rect x="1468" y="627" width="7" height="40" fill="#e60000"/>
<rect x="1484" y="617" width="1" height="4" fill="#1e4fd8"/>
<rect x="1484" y="668" width="1" height="11" fill="#1e4fd8"/>
<rect x="1480" y="621" width="9" height="47" fill="#000"/>
<rect x="1481" y="622" width="7" height="45" fill="#2962ff"/>
<rect x="1496" y="606" width="1" height="18" fill="#e60000"/>
<rect x="1496" y="666" width="1" height="5" fill="#e60000"/>
<rect x="1492" y="624" width="9" height="42" fill="#000"/>
<rect x="1493" y="625" width="7" height="40" fill="#e60000"/>
<rect x="1509" y="621" width="1" height="19" fill="#1e4fd8"/>
<rect x="1509" y="667" width="1" height="6" fill="#1e4fd8"/>
<rect x="1505" y="640" width="9" height="27" fill="#000"/>
<rect x="1506" y="641" width="7" height="25" fill="#2962ff"/>
<rect x="1521" y="581" width="1" height="8" fill="#1e4fd8"/>
<rect x="1521" y="634" width="1" height="6" fill="#1e4fd8"/>
<rect x="1517" y="589" width="9" height="45" fill="#000"/>
<rect x="1518" y="590" width="7" height="43" fill="#2962ff"/>
<rect x="1534" y="586" width="1" height="3" fill="#e60000"/>
<rect x="1534" y="602" width="1" height="19" fill="#e60000"/>
<rect x="1530" y="589" width="9" height="13" fill="#000"/>
<rect x="1531" y="590" width="7" height="11" fill="#e60000"/>
<rect x="1546" y="574" width="1" height="16" fill="#1e4fd8"/>
<rect x="1546" y="601" width="1" height="6" fill="#1e4fd8"/>
<rect x="1542" y="590" width="9" height="11" fill="#000"/>
<rect x="1543" y="591" width="7" height="9" fill="#2962ff"/>
<rect x="1559" y="568" width="1" height="21" fill="#e60000"/>
<rect x="1559" y="602" width="1" height="7" fill="#e60000"/>
<rect x="1555" y="589" width="9" height="13" fill="#000"/>
<rect x="1556" y="590" width="7" height="11" fill="#e60000"/>
<rect x="1571" y="600" width="1" height="2" fill="#e60000"/>
<rect x="1571" y="640" width="1" height="10" fill="#e60000"/>
<rect x="1567" y="602" width="9" height="38" fill="#000"/>
<rect x="1568" y="603" width="7" height="36" fill="#e60000"/>
<rect x="1584" y="603" width="1" height="14" fill="#1e4fd8"/>
<rect x="1584" y="640" width="1" height="24" fill="#1e4fd8"/>
<rect x="1580" y="617" width="9" height="23" fill="#000"/>
<rect x="1581" y="618" width="7" height="21" fill="#2962ff"/>
<rect x="1596" y="590" width="1" height="4" fill="#1e4fd8"/>
<rect x="1596" y="622" width="1" height="11" fill="#1e4fd8"/>
<rect x="1592" y="594" width="9" height="28" fill="#000"/>
<rect x="1593" y="595" width="7" height="26" fill="#2962ff"/>
<rect x="1609" y="571" width="1" height="5" fill="#1e4fd8"/>
<rect x="1609" y="595" width="1" height="11" fill="#1e4fd8"/>
<rect x="1605" y="576" width="9" height="19" fill="#000"/>
<rect x="1606" y="577" width="7" height="17" fill="#2962ff"/>
<rect x="1621" y="568" width="1" height="6" fill="#e60000"/>
<rect x="1621" y="580" width="1" height="28" fill="#e60000"/>
<rect x="1617" y="574" width="9" height="6" fill="#000"/>
<rect x="1618" y="575" width="7" height="4" fill="#e60000"/>
<rect x="1634" y="557" width="1" height="12" fill="#1e4fd8"/>
<rect x="1634" y="580" width="1" height="14" fill="#1e4fd8"/>
<rect x="1630" y="569" width="9" height="11" fill="#000"/>
<rect x="1631" y="570" width="7" height="9" fill="#2962ff"/>
<rect x="1646" y="541" width="1" height="4" fill="#1e4fd8"/>
<rect x="1646" y="565" width="1" height="15" fill="#1e4fd8"/>
<rect x="1642" y="545" width="9" height="20" fill="#000"/>
<rect x="1643" y="546" width="7" height="18" fill="#2962ff"/>
<rect x="1659" y="475" width="1" height="48" fill="#1e4fd8"/>
<rect x="1659" y="544" width="1" height="4" fill="#1e4fd8"/>
<rect x="1655" y="523" width="9" height="21" fill="#000"/>
<rect x="1656" y="524" width="7" height="19" fill="#2962ff"/>
<rect x="1671" y="542" width="1" height="1" fill="#e60000"/>
<rect x="1671" y="588" width="1" height="14" fill="#e60000"/>
<rect x="1667" y="543" width="9" height="45" fill="#000"/>
<rect x="1668" y="544" width="7" height="43" fill="#e60000"/>
<rect x="1684" y="550" width="1" height="28" fill="#1e4fd8"/>
<rect x="1684" y="588" width="1" height="11" fill="#1e4fd8"/>
<rect x="1680" y="578" width="9" height="10" fill="#000"/>
<rect x="1681" y="579" width="7" height="8" fill="#2962ff"/>
<rect x="1696" y="575" width="1" height="2" fill="#e60000"/>
<rect x="1696" y="607" width="1" height="22" fill="#e60000"/>
<rect x="1692" y="577" width="9" height="30" fill="#000"/>
<rect x="1693" y="578" width="7" height="28" fill="#e60000"/>
<rect x="1709" y="586" width="1" height="3" fill="#1e4fd8"/>
<rect x="1709" y="607" width="1" height="7" fill="#1e4fd8"/>
<rect x="1705" y="589" width="9" height="18" fill="#000"/>
<rect x="1706" y="590" width="7" height="16" fill="#2962ff"/>
</g>
<text x="150.9" y="73.5" font-size="14" fill="#4a148c" font-weight="bold" textLength="163.3" lengthAdjust="spacingAndGlyphs">January 2025 - 158.88</text>
<text x="988.0" y="790.6" font-size="14" fill="#4a148c" font-weight="bold" textLength="170.5" lengthAdjust="spacingAndGlyphs">April 2025 low - 139.89</text>
<text x="2.0" y="18.4" font-size="15.6" fill="#131722" textLength="140.4" lengthAdjust="spacingAndGlyphs">USD/JPY Spot · 1D</text>
<text x="150.6" y="18.0" font-size="13" fill="#131722" textLength="52.4" lengthAdjust="spacingAndGlyphs">O144.41</text>
<text x="211.5" y="18.0" font-size="13" fill="#131722" textLength="51.8" lengthAdjust="spacingAndGlyphs">H144.95</text>
<text x="271.7" y="18.0" font-size="13" fill="#131722" textLength="49.1" lengthAdjust="spacingAndGlyphs">L144.18</text>
<text x="328.9" y="18.0" font-size="13" fill="#131722" textLength="51.1" lengthAdjust="spacingAndGlyphs">C144.88</text>
<text x="388.2" y="18.0" font-size="13" fill="#131722" textLength="34.8" lengthAdjust="spacingAndGlyphs">+0.47</text>
<text x="428.0" y="18.0" font-size="13" fill="#131722" textLength="52.5" lengthAdjust="spacingAndGlyphs">(+0.33%)</text>
<text x="1.6" y="43.7" font-size="13" fill="#131722" textLength="18.1" lengthAdjust="spacingAndGlyphs">MA</text>
<text x="24.9" y="43.7" font-size="13" fill="#5d606b" textLength="62.8" lengthAdjust="spacingAndGlyphs">20 close 0</text>
<text x="96.9" y="43.7" font-size="13" fill="#2196f3" textLength="41.9" lengthAdjust="spacingAndGlyphs">144.58</text>
<text x="1.6" y="69.6" font-size="13" fill="#131722" textLength="18.1" lengthAdjust="spacingAndGlyphs">MA</text>
<text x="24.9" y="69.6" font-size="13" fill="#5d606b" textLength="62.8" lengthAdjust="spacingAndGlyphs">50 close 0</text>
<text x="96.9" y="69.6" font-size="13" fill="#e91e63" textLength="41.9" lengthAdjust="spacingAndGlyphs">144.33</text>
<rect x="2.5" y="81.5" width="30" height="22" rx="3.5" ry="3.5" fill="#fff" stroke="#d1d4dc" stroke-width="1"/>
<polyline points="13.3,94.5 17.5,90.5 21.7,94.5" fill="none" stroke="#131722" stroke-width="1.25" stroke-linecap="round" stroke-linejoin="round"/>
<text x="1861.8" y="877.6" font-size="12.5" fill="#131722" textLength="38.0" lengthAdjust="spacingAndGlyphs">137.00</text>
<text x="1861.8" y="841.6" font-size="12.5" fill="#131722" textLength="38.0" lengthAdjust="spacingAndGlyphs">138.00</text>
<text x="1861.8" y="805.6" font-size="12.5" fill="#131722" textLength="38.0" lengthAdjust="spacingAndGlyphs">139.00</text>
<text x="1861.8" y="769.5" font-size="12.5" fill="#131722" textLength="38.0" lengthAdjust="spacingAndGlyphs">140.00</text>
<text x="1861.8" y="733.5" font-size="12.5" fill="#131722" textLength="38.0" lengthAdjust="spacingAndGlyphs">141.00</text>
<text x="1861.8" y="697.5" font-size="12.5" fill="#131722" textLength="38.0" lengthAdjust="spacingAndGlyphs">142.00</text>
<text x="1861.8" y="661.4" font-size="12.5" fill="#131722" textLength="38.0" lengthAdjust="spacingAndGlyphs">143.00</text>
<text x="1861.8" y="553.4" font-size="12.5" fill="#131722" textLength="38.0" lengthAdjust="spacingAndGlyphs">146.00</text>
<text x="1861.8" y="517.3" font-size="12.5" fill="#131722" textLength="38.0" lengthAdjust="spacingAndGlyphs">147.00</text>
<text x="1861.8" y="481.3" font-size="12.5" fill="#131722" textLength="38.0" lengthAdjust="spacingAndGlyphs">148.00</text>
<text x="1861.8" y="445.3" font-size="12.5" fill="#131722" textLength="38.0" lengthAdjust="spacingAndGlyphs">149.00</text>
<text x="1861.8" y="409.2" font-size="12.5" fill="#131722" textLength="38.0" lengthAdjust="spacingAndGlyphs">150.00</text>
<text x="1861.8" y="373.2" font-size="12.5" fill="#131722" textLength="38.0" lengthAdjust="spacingAndGlyphs">151.00</text>
<text x="1861.8" y="337.2" font-size="12.5" fill="#131722" textLength="38.0" lengthAdjust="spacingAndGlyphs">152.00</text>
<text x="1861.8" y="301.1" font-size="12.5" fill="#131722" textLength="38.0" lengthAdjust="spacingAndGlyphs">153.00</text>
<text x="1861.8" y="265.1" font-size="12.5" fill="#131722" textLength="38.0" lengthAdjust="spacingAndGlyphs">154.00</text>
<text x="1861.8" y="229.1" font-size="12.5" fill="#131722" textLength="38.0" lengthAdjust="spacingAndGlyphs">155.00</text>
<text x="1861.8" y="193.1" font-size="12.5" fill="#131722" textLength="38.0" lengthAdjust="spacingAndGlyphs">156.00</text>
<text x="1861.8" y="157.0" font-size="12.5" fill="#131722" textLength="38.0" lengthAdjust="spacingAndGlyphs">157.00</text>
<text x="1861.8" y="121.0" font-size="12.5" fill="#131722" textLength="38.0" lengthAdjust="spacingAndGlyphs">158.00</text>
<text x="1861.8" y="85.0" font-size="12.5" fill="#131722" textLength="38.0" lengthAdjust="spacingAndGlyphs">159.00</text>
<text x="1861.8" y="48.9" font-size="12.5" fill="#131722" textLength="38.0" lengthAdjust="spacingAndGlyphs">160.00</text>
<text x="1861.8" y="12.9" font-size="12.5" fill="#131722" textLength="38.0" lengthAdjust="spacingAndGlyphs">161.00</text>
<rect x="1852" y="580" width="53" height="19" fill="#2962ff"/>
<text x="1861.8" y="594.0" font-size="12.5" fill="#fff" font-weight="bold" textLength="38.0" lengthAdjust="spacingAndGlyphs">144.88</text>
<rect x="1852" y="599" width="53" height="19" fill="#2196f3"/>
<text x="1861.8" y="613.0" font-size="12.5" fill="#fff" font-weight="bold" textLength="38.0" lengthAdjust="spacingAndGlyphs">144.58</text>
<rect x="1852" y="618" width="53" height="18" fill="#e91e63"/>
<text x="1861.8" y="631.5" font-size="12.5" fill="#fff" font-weight="bold" textLength="38.0" lengthAdjust="spacingAndGlyphs">144.33</text>
<line x1="3" y1="894.5" x2="1852" y2="894.5" stroke="#787b86" stroke-width="1" stroke-dasharray="5 6"/>
<line x1="3" y1="941.5" x2="1852" y2="941.5" stroke="#787b86" stroke-width="1" stroke-dasharray="5 6"/>
<line x1="3" y1="987.5" x2="1852" y2="987.5" stroke="#787b86" stroke-width="1" stroke-dasharray="5 6"/>
<polyline points="-1.5,911.7 11.5,899.7 23.5,906.6 36.5,901.8 48.5,901.4 61.5,901.4 73.5,900.3 86.5,895.5 98.5,913.8 111.5,909.1 123.5,911.7 136.5,907.5 148.5,912.5 160.5,909.4 173.5,907.0 185.5,902.0 198.5,907.0 210.5,912.3 223.5,916.1 235.5,911.7 248.5,939.6 260.5,955.8 273.5,942.1 285.5,949.0 298.5,950.3 310.5,935.4 323.5,943.4 335.5,944.6 348.5,961.0 360.5,947.2 373.5,949.0 385.5,962.1 398.5,949.7 410.5,954.7 423.5,959.1 435.5,974.9 448.5,984.1 460.5,986.0 473.5,975.3 485.5,965.8 498.5,941.3 510.5,958.1 523.5,961.6 535.5,969.4 548.5,961.2 560.5,965.8 572.5,979.9 585.5,983.3 597.5,975.3 610.5,980.7 622.5,979.5 635.5,969.0 647.5,958.5 660.5,968.4 672.5,970.9 685.5,972.8 697.5,981.8 710.5,979.3 722.5,984.9 735.5,976.1 747.5,968.4 760.5,972.8 772.5,959.1 785.5,951.1 797.5,950.1 810.5,957.4 822.5,956.0 835.5,947.2 847.5,927.6 860.5,937.3 872.5,929.7 885.5,926.6 897.5,941.7 910.5,940.4 922.5,945.5 935.5,950.3 947.5,982.6 960.5,969.6 972.5,957.9 984.5,970.9 997.5,952.4 1009.5,976.3 1022.5,981.4 1034.5,983.9 1047.5,981.6 1059.5,988.7 1072.5,982.0 1084.5,983.5 1097.5,991.2 1109.5,981.8 1122.5,960.2 1134.5,966.0 1147.5,955.3 1159.5,966.9 1172.5,963.7 1184.5,956.2 1197.5,935.4 1209.5,939.0 1222.5,949.5 1234.5,958.7 1247.5,946.3 1259.5,930.1 1272.5,934.6 1284.5,915.9 1297.5,922.8 1309.5,928.7 1322.5,937.1 1334.5,937.1 1347.5,944.2 1359.5,946.9 1372.5,953.2 1384.5,950.1 1396.5,961.2 1409.5,958.3 1421.5,943.8 1434.5,939.4 1446.5,944.8 1459.5,946.5 1471.5,958.1 1484.5,945.3 1496.5,955.1 1509.5,948.4 1521.5,935.2 1534.5,938.2 1546.5,935.3 1559.5,938.7 1571.5,949.4 1584.5,942.4 1596.5,935.9 1609.5,930.9 1621.5,932.4 1634.5,929.4 1646.5,921.9 1659.5,921.2 1671.5,938.0 1684.5,934.9 1696.5,945.2 1709.5,938.7" fill="none" stroke="#7e57c2" stroke-width="1.2" stroke-linejoin="round" stroke-linecap="round"/>
<rect x="0" y="894" width="90" height="19" fill="#fff" fill-opacity="0.55"/>
<text x="2.0" y="905.0" font-size="13" fill="#131722" textLength="16.9" lengthAdjust="spacingAndGlyphs">RSI</text>
<text x="26.5" y="905.0" font-size="13" fill="#5d606b" textLength="13.3" lengthAdjust="spacingAndGlyphs">14</text>
<text x="48.6" y="905.0" font-size="13" fill="#7e57c2" textLength="34.0" lengthAdjust="spacingAndGlyphs">50.67</text>
<text x="1861.8" y="922.3" font-size="12.5" fill="#131722" textLength="31.6" lengthAdjust="spacingAndGlyphs">60.00</text>
<text x="1861.8" y="969.3" font-size="12.5" fill="#131722" textLength="31.6" lengthAdjust="spacingAndGlyphs">40.00</text>
<path d="M1852 930.5h44.7a2 2 0 0 1 2 2v14.2a2 2 0 0 1 -2 2h-44.7z" fill="#7e57c2"/>
<text x="1861.8" y="944.1" font-size="12.5" fill="#fff" font-weight="bold" textLength="31.6" lengthAdjust="spacingAndGlyphs">50.67</text>
<circle cx="23.4" cy="970" r="18.2" fill="#fff" stroke="#d9dce5" stroke-width="1.2"/>
<path d="M11.9 964.6h9.9v12.3h-4.7v-8.1h-5.2z" fill="#131722"/><circle cx="25" cy="966.7" r="2.05" fill="#131722"/><path d="M30.2 964.6h4.9l-4.6 12.3h-5.4z" fill="#131722"/>
<text x="123.0" y="1022.4" font-size="14" fill="#131722" font-weight="bold" text-anchor="middle" textLength="30.2" lengthAdjust="spacingAndGlyphs">2025</text>
<text x="223.0" y="1022.3" font-size="12.5" fill="#131722" text-anchor="middle">13</text>
<text x="410.0" y="1022.3" font-size="12.5" fill="#131722" text-anchor="middle">Feb</text>
<text x="510.0" y="1022.3" font-size="12.5" fill="#131722" text-anchor="middle">13</text>
<text x="659.6" y="1022.3" font-size="12.5" fill="#131722" text-anchor="middle">Mar</text>
<text x="759.6" y="1022.3" font-size="12.5" fill="#131722" text-anchor="middle">13</text>
<text x="921.7" y="1022.3" font-size="12.5" fill="#131722" text-anchor="middle">Apr</text>
<text x="1021.3" y="1022.3" font-size="12.5" fill="#131722" text-anchor="middle">11</text>
<text x="1196.4" y="1022.3" font-size="12.5" fill="#131722" text-anchor="middle">May</text>
<text x="1296.4" y="1022.3" font-size="12.5" fill="#131722" text-anchor="middle">13</text>
<text x="1471.0" y="1022.3" font-size="12.5" fill="#131722" text-anchor="middle">Jun</text>
<text x="1571.6" y="1022.3" font-size="12.5" fill="#131722" text-anchor="middle">12</text>
<text x="1758.4" y="1022.3" font-size="12.5" fill="#131722" text-anchor="middle">Jul</text>
<polygon points="1890.7,1017.6 1886.6,1024.7 1878.4,1024.7 1874.3,1017.6 1878.4,1010.5 1886.6,1010.5" fill="none" stroke="#131722" stroke-width="1.2" stroke-linejoin="round"/>
<circle cx="1882.5" cy="1017.6" r="2.6" fill="none" stroke="#131722" stroke-width="1.2"/>
</svg>
</body></html>
